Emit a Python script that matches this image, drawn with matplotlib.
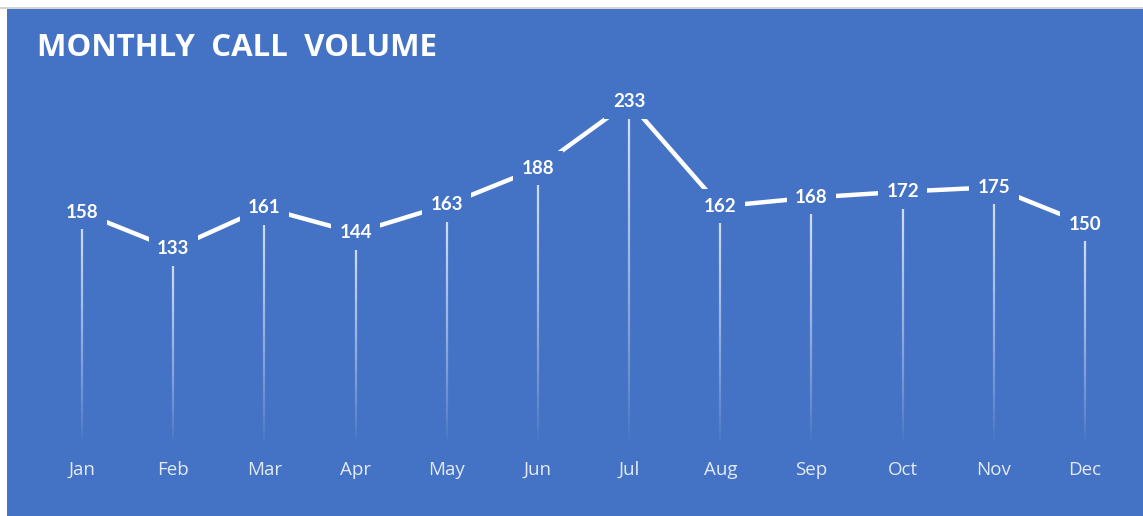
import numpy as np
import matplotlib.pyplot as plt
from matplotlib.patches import Rectangle
from matplotlib.collections import LineCollection

# data
months = ['Jan', 'Feb', 'Mar', 'Apr', 'May', 'Jun', 'Jul', 'Aug', 'Sep', 'Oct', 'Nov', 'Dec']
calls = [158, 133, 161, 144, 163, 188, 233, 162, 168, 172, 175, 150]
title = 'MONTHLY  CALL  VOLUME'

BLUE = '#4472C4'
W, H = 1143, 516

plt.rcParams['font.family'] = ['Lato', 'DejaVu Sans']

fig = plt.figure(figsize=(W / 100, H / 100), dpi=100, facecolor='white')

# blue chart area + grey strip on top
fig.patches.append(Rectangle((7 / W, 0), 1 - 7 / W, 1 - 9 / H, transform=fig.transFigure,
                             facecolor=BLUE, edgecolor='none', zorder=-10))
fig.patches.append(Rectangle((0, 1 - 9 / H), 1, 2 / H, transform=fig.transFigure,
                             facecolor='#d4d4d4', edgecolor='none', zorder=-10))

ax = fig.add_axes([36.4 / W, (H - 444.5) / H, (1130.6 - 36.4) / W, 367.5 / H])
ax.set_facecolor('none')
ax.set_xlim(-0.5, len(months) - 0.5)
ax.set_ylim(0, 250)
for s in ax.spines.values():
    s.set_visible(False)
ax.set_yticks([])
x = np.arange(len(months))
ax.set_xticks(x)
ax.set_xticklabels(months, color='#e4eaf6', fontsize=13.5, family=['Open Sans', 'DejaVu Sans'])
ax.tick_params(axis='x', length=0, pad=12)

# fading drop lines
n = 60
for xi, v in zip(x, calls):
    ys = np.linspace(v, 0, n + 1)
    segs = [[(xi, ys[i]), (xi, ys[i + 1])] for i in range(n)]
    fade = np.linspace(0.75, 0.0, n) ** 0.8
    cols = [(1, 1, 1, a) for a in fade]
    ax.add_collection(LineCollection(segs, colors=cols, linewidths=1.6, zorder=1))

ax.plot(x, calls, color='white', lw=3.2, zorder=2, solid_capstyle='butt')

for xi, v in zip(x, calls):
    ax.text(xi, v, str(v), ha='center', va='center', color='white', fontsize=13.5,
            fontweight='bold', zorder=3,
            bbox=dict(boxstyle='square,pad=0.45', facecolor=BLUE, edgecolor='none'))

fig.text(37 / W, 1 - 48.5 / H, title, color='white', fontsize=22.5, fontweight='bold',
         va='center', ha='left', family=['Open Sans', 'DejaVu Sans'])

fig.savefig('out.png', dpi=100, facecolor='white')
